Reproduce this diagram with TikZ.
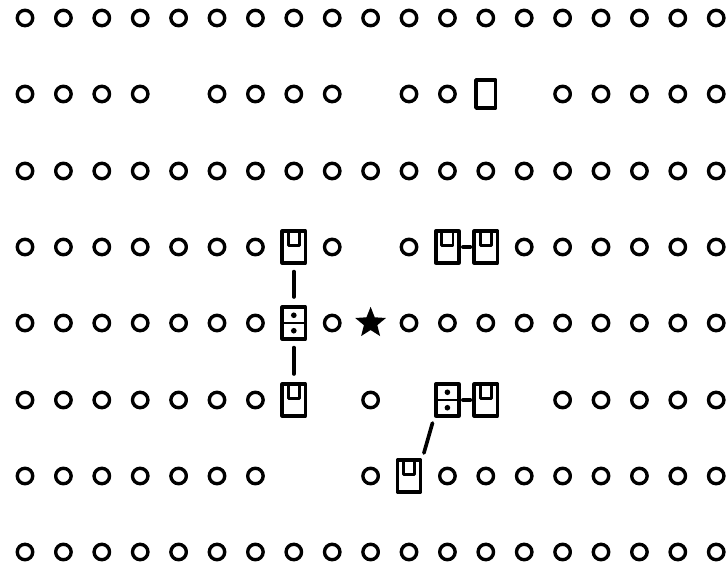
\documentclass[tikz,border=0pt]{standalone}
\usetikzlibrary{shapes.geometric}
\tikzset{
 hole/.style={circle,draw,line width=2.4pt,minimum size=11pt,inner sep=0pt},
 box/.style={rectangle,draw,line width=2.5pt,minimum width=16.5pt,minimum height=22.5pt,inner sep=0pt},
 ubox/.style={box,path picture={\draw[line width=2pt]
   ([xshift=-4pt]path picture bounding box.north) -- ++(0,-10pt) -| ([xshift=4pt]path picture bounding box.north);}},
 dotbox/.style={box,path picture={\draw[line width=2pt]
   (path picture bounding box.west) -- (path picture bounding box.east);
   \fill ([yshift=5.5pt]path picture bounding box.center) circle (2pt);
   \fill ([yshift=-5.5pt]path picture bounding box.center) circle (2pt);}},
 link/.style={line width=2.6pt,shorten <=5pt,shorten >=6pt},
 joint/.style={line width=2.6pt,shorten <=1.5pt,shorten >=1.5pt}
}
\begin{document}
\begin{tikzpicture}[x=0.025cm,y=-0.025cm,line cap=round,line join=round]
 \useasboundingbox (0,0) rectangle (728,563);
 % full rows of holes
 \foreach \y/\r in {18/1,171/3,552/8}
  \foreach \c in {1,...,19}
   \node[hole] (h\r-\c) at ({25+38.4*(\c-1)},\y) {};
 % rows with gaps
 \foreach \c in {1,2,3,4,6,7,8,9,11,12,15,16,17,18,19}
  \node[hole] (h2-\c) at ({25+38.4*(\c-1)},94) {};
 \foreach \c in {1,...,7,9,11,14,15,16,17,18,19}
  \node[hole] (h4-\c) at ({25+38.4*(\c-1)},247) {};
 \foreach \c in {1,...,7,9,11,12,13,14,15,16,17,18,19}
  \node[hole] (h5-\c) at ({25+38.4*(\c-1)},323) {};
 \foreach \c in {1,...,7,10,15,16,17,18,19}
  \node[hole] (h6-\c) at ({25+38.4*(\c-1)},400) {};
 \foreach \c in {1,...,7,10,12,13,14,15,16,17,18,19}
  \node[hole] (h7-\c) at ({25+38.4*(\c-1)},476) {};
 % pieces
 \node[box,minimum width=14pt,minimum height=20pt] (p2-13) at ({25+38.4*12},94) {};
 \node[ubox] (p4-8) at ({25+38.4*7},247) {};
 \node[ubox] (p4-12) at ({25+38.4*11},247) {};
 \node[ubox] (p4-13) at ({25+38.4*12},247) {};
 \node[dotbox] (p5-8) at ({25+38.4*7},323) {};
 \node[ubox] (p6-8) at ({25+38.4*7},400) {};
 \node[dotbox] (p6-12) at ({25+38.4*11},400) {};
 \node[ubox] (p6-13) at ({25+38.4*12},400) {};
 \node[ubox] (p7-11) at ({25+38.4*10},476) {};
 \node[star,star points=5,star point ratio=2.3,fill,minimum size=23pt,inner sep=0pt] (s5-10) at ({25+38.4*9},323) {};
 % links
 \draw[link] (p4-8) -- (p5-8);
 \draw[link] (p5-8) -- (p6-8);
 \draw[joint] (p4-12) -- (p4-13);
 \draw[joint] (p6-12) -- (p6-13);
 \draw[link,shorten <=4pt,shorten >=4pt] (p6-12.south west) -- (p7-11.north east);
\end{tikzpicture}
\end{document}
